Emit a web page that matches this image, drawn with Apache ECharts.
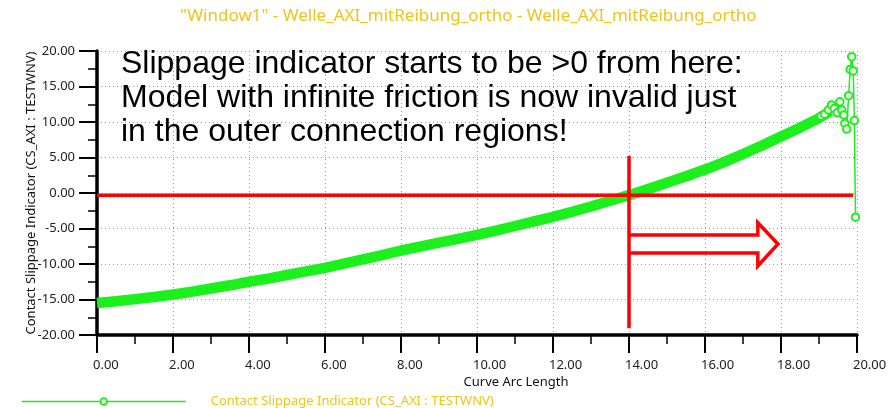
<!DOCTYPE html>
<html>
<head>
<meta charset="utf-8">
<script src="https://cdn.jsdelivr.net/npm/echarts@6/dist/echarts.min.js"></script>
<style>
  html, body { margin: 0; padding: 0; background: #fff; }
  #chart { width: 896px; height: 408px; }
</style>
</head>
<body>
<div id="chart"></div>
<script>
// Contact slippage indicator along the curve arc length
const arcLength = [0, 0.5, 1, 1.5, 2, 2.5, 3, 3.5, 4, 4.5, 5, 5.5, 6, 6.5, 7, 7.5, 8, 8.5, 9, 9.5,
  10, 10.5, 11, 11.5, 12, 12.5, 13, 13.5, 14, 14.5, 15, 15.5, 16, 16.5, 17, 17.5, 18, 18.5, 19, 19.3];
const slippage = [-15.5, -15.25, -14.95, -14.65, -14.3, -13.9, -13.45, -13.0, -12.5, -12.05,
  -11.55, -11.05, -10.55, -9.95, -9.35, -8.75, -8.1, -7.55, -7.0, -6.45,
  -5.9, -5.3, -4.65, -4.0, -3.35, -2.65, -1.9, -1.1, -0.3, 0.55,
  1.45, 2.35, 3.3, 4.35, 5.5, 6.7, 7.95, 9.2, 10.55, 11.5];

// Outer end of the connection, where the values scatter
const tailArc = [19.05, 19.15, 19.25, 19.33, 19.4, 19.48, 19.55, 19.6, 19.65, 19.68, 19.73,
  19.78, 19.82, 19.86, 19.9, 19.93, 19.96];
const tailSlip = [10.8, 11.1, 11.7, 12.4, 11.9, 11.3, 12.85, 11.7, 11.0, 9.8, 9.0,
  13.7, 17.4, 19.2, 17.2, 10.2, -3.4];

// Axis ticks
const xTicks = [0, 2, 4, 6, 8, 10, 12, 14, 16, 18, 20];
const yTicks = [-20, -15, -10, -5, 0, 5, 10, 15, 20];

// Annotation: zero reference, start marker and arrow outline (data units)
const zeroLineX = [0, 19.9];
const zeroLineY = [-0.3, -0.3];
const markerX = [14, 14];
const markerY = [-19.06, 5.2];
const arrowX = [14, 17.39, 17.39, 17.92, 17.39, 17.39, 14];
const arrowY = [-5.92, -5.92, -4.18, -7.18, -10.28, -8.45, -8.45];

const seriesName = 'Contact Slippage Indicator (CS_AXI : TESTWNV)';
const green = '#1cf01c';
const gold = '#eec41a';
const labelFont = 'Noto Sans';
const zip = (xs, ys) => xs.map((x, i) => [x, ys[i]]);

const chart = echarts.init(document.getElementById('chart'), null, { renderer: 'canvas' });

const redLine = (name, xs, ys) => ({
  name: name,
  type: 'line',
  data: zip(xs, ys),
  showSymbol: false,
  symbol: 'none',
  silent: true,
  animation: false,
  z: 5,
  lineStyle: { color: '#ff0000', width: 3.5, join: 'miter' }
});

chart.setOption({
  animation: false,
  backgroundColor: '#ffffff',
  title: {
    text: '"Window1" - Welle_AXI_mitReibung_ortho - Welle_AXI_mitReibung_ortho',
    left: 175,
    top: 3,
    textStyle: { color: gold, fontFamily: labelFont, fontSize: 17, fontWeight: 'normal' }
  },
  graphic: [{
    type: 'text',
    left: 121,
    top: 47,
    z: 10,
    style: {
      text: 'Slippage indicator starts to be >0 from here:\nModel with infinite friction is now invalid just\nin the outer connection regions!',
      fill: '#000',
      font: '32px "Liberation Sans", Arial, sans-serif',
      lineHeight: 34
    }
  }],
  legend: {
    data: [seriesName],
    left: 16,
    top: 390,
    itemWidth: 164,
    itemHeight: 8,
    lineStyle: { width: 1.5 },
    textStyle: { color: gold, fontFamily: labelFont, fontSize: 13, padding: [0, 0, 0, 20] }
  },
  grid: { left: 97, right: 39, top: 51, bottom: 73 },
  xAxis: {
    type: 'value',
    min: 0, max: 20, interval: 2,
    name: 'Curve Arc Length',
    nameLocation: 'middle',
    nameGap: 41,
    nameMoveOverlap: false,
    nameTextStyle: { color: '#111', fontFamily: labelFont, fontSize: 13, padding: [0, 0, 0, 78] },
    axisLine: { onZero: false, lineStyle: { color: '#000', width: 3.5 } },
    axisTick: { inside: false, length: 18, lineStyle: { color: '#000', width: 2 } },
    minorTick: { show: true, splitNumber: 2, length: 9, lineStyle: { color: '#000', width: 1.5 } },
    axisLabel: {
      margin: 24, color: '#222', fontFamily: labelFont, fontSize: 13,
      align: 'left', padding: [0, 0, 0, -4],
      formatter: v => xTicks.includes(v) ? v.toFixed(2) : ''
    },
    splitLine: { show: true, lineStyle: { color: '#9a9a9a', width: 1, type: [1, 3] } }
  },
  yAxis: {
    type: 'value',
    min: -20, max: 20, interval: 5,
    name: 'Contact Slippage Indicator (CS_AXI : TESTWNV)',
    nameLocation: 'middle',
    nameGap: 59,
    nameMoveOverlap: false,
    nameTextStyle: { color: '#111', fontFamily: labelFont, fontSize: 13 },
    axisLine: { onZero: false, lineStyle: { color: '#000', width: 3.5 } },
    axisTick: { inside: false, length: 18, lineStyle: { color: '#000', width: 2 } },
    minorTick: { show: true, splitNumber: 2, length: 9, lineStyle: { color: '#000', width: 1.5 } },
    axisLabel: {
      margin: 22, color: '#222', fontFamily: labelFont, fontSize: 13,
      formatter: v => yTicks.includes(v) ? v.toFixed(2) : ''
    },
    splitLine: { show: true, lineStyle: { color: '#9a9a9a', width: 1, type: [1, 3] } }
  },
  series: [
    {
      name: 'Contact Slippage Indicator (dense)',
      type: 'line',
      data: zip(arcLength, slippage),
      showSymbol: false,
      symbol: 'none',
      z: 3,
      lineStyle: { color: green, width: 10.5 }
    },
    {
      name: seriesName,
      type: 'line',
      data: zip(tailArc, tailSlip),
      symbol: 'emptyCircle',
      symbolSize: 7.5,
      showSymbol: true,
      z: 4,
      itemStyle: { color: green, borderColor: green, borderWidth: 1.2 },
      lineStyle: { color: green, width: 1.5 }
    },
    redLine('zero', zeroLineX, zeroLineY),
    redLine('marker', markerX, markerY),
    redLine('arrow', arrowX, arrowY)
  ]
});
</script>
</body>
</html>
